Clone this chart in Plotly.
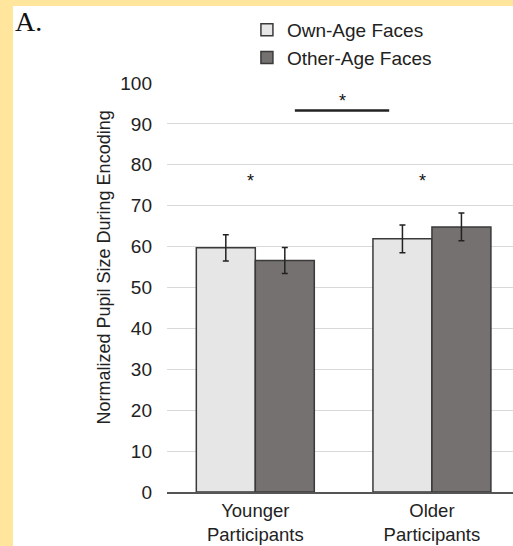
import plotly.graph_objects as go

# ---- data ----
groups = ["Younger<br>Participants", "Older<br>Participants"]
own_age = [59.7, 61.9]
own_age_err = [3.2, 3.4]
other_age = [56.6, 64.8]
other_age_err = [3.2, 3.4]
series_names = ["Own-Age Faces", "Other-Age Faces"]
y_ticks = [0, 10, 20, 30, 40, 50, 60, 70, 80, 90, 100]

# significance markers (category-index x, value y)
star_x = [-0.027, 0.947, 0.494]
star_y = [76.9, 77.1, 96.7]
bracket_x = [0.224, 0.758]
bracket_y = 93.3

FONT = "Liberation Sans, Arial, sans-serif"
light = "#E7E6E6"
dark = "#767171"
edge = "#3A3A3A"

fig = go.Figure()
fig.add_trace(go.Bar(
    x=list(range(len(groups))), y=own_age, name=series_names[0],
    marker=dict(color=light, line=dict(color=edge, width=1.5)),
    error_y=dict(type="data", array=own_age_err, color="#222222", thickness=1.5, width=3),
))
fig.add_trace(go.Bar(
    x=list(range(len(groups))), y=other_age, name=series_names[1],
    marker=dict(color=dark, line=dict(color=edge, width=1.5)),
    error_y=dict(type="data", array=other_age_err, color="#222222", thickness=1.5, width=3),
))

annotations = []
for sx, sy in zip(star_x, star_y):
    annotations.append(dict(x=sx, y=sy, xref="x", yref="y", text="*", showarrow=False,
                            font=dict(family=FONT, size=18, color="#111111"),
                            xanchor="center", yanchor="middle", yshift=-4))
annotations.append(dict(x=-0.182, y=0.549, xref="paper", yref="paper",
                        text="Normalized Pupil Size During Encoding", textangle=-90,
                        showarrow=False, font=dict(family=FONT, size=18, color="#222222"),
                        xanchor="center", yanchor="middle"))
annotations.append(dict(x=-0.444, y=1.193, xref="paper", yref="paper", text="A.",
                        showarrow=False, font=dict(family="Liberation Serif, Times New Roman, serif",
                                                   size=28, color="#111111"),
                        xanchor="left", yanchor="top"))

shapes = [
    dict(type="rect", xref="paper", yref="paper", x0=-0.4451, x1=1.1, y0=-0.3, y1=1.1883,
         fillcolor="white", line=dict(width=0), layer="below"),
    dict(type="line", xref="x", yref="y", x0=bracket_x[0], x1=bracket_x[1],
         y0=bracket_y, y1=bracket_y, line=dict(color="#222222", width=2.5)),
]

fig.update_layout(
    width=513, height=546,
    margin=dict(l=167, r=0, t=83, b=54, pad=0, autoexpand=False),
    paper_bgcolor="#FFE69C", plot_bgcolor="white",
    barmode="group", bargap=0.332, bargroupgap=0,
    font=dict(family=FONT, size=19, color="#222222"),
    showlegend=True,
    legend=dict(x=0.231, y=1.176, xanchor="left", yanchor="top",
                font=dict(family=FONT, size=19, color="#222222"),
                bgcolor="rgba(0,0,0,0)", itemwidth=30, tracegroupgap=0),
    annotations=annotations, shapes=shapes,
    xaxis=dict(tickmode="array", tickvals=list(range(len(groups))), ticktext=groups,
               range=[-0.5, 1.459], showline=True, linecolor="#555555", linewidth=1.5,
               showgrid=False, ticks="", zeroline=False, ticklabelstandoff=1,
               automargin=False,
               tickfont=dict(family=FONT, size=18.5, color="#222222")),
    yaxis=dict(range=[0, 100], tickvals=y_ticks, showgrid=True, gridcolor="#D9D9D9",
               gridwidth=1.2, zeroline=False, showline=False, ticks="",
               ticklabelstandoff=14, automargin=False,
               tickfont=dict(family=FONT, size=19, color="#222222")),
)

fig.write_html("out.html")
